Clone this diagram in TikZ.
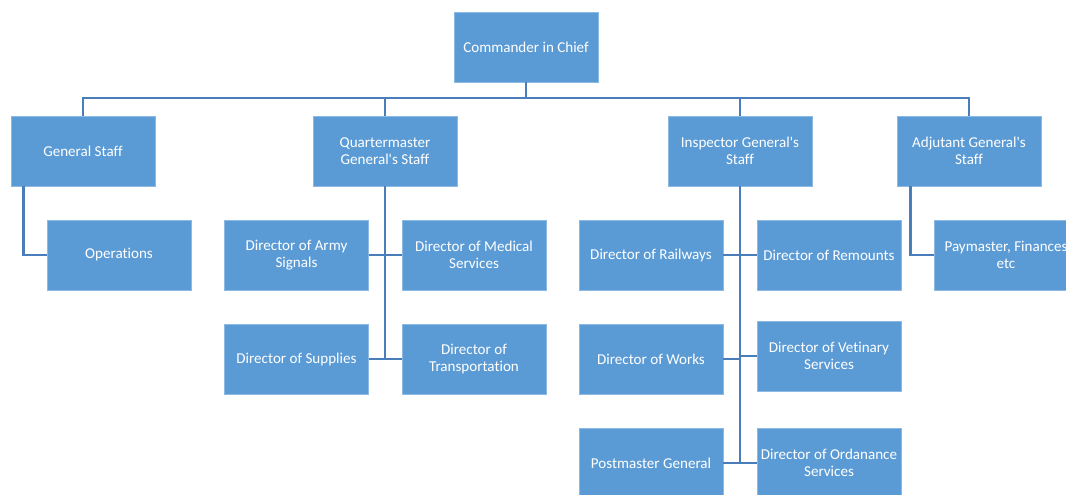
\documentclass[tikz,border=0pt]{standalone}
\usepackage{fontspec}
\setmainfont{Carlito}[Ligatures={TeXOff,NoCommon}]
\definecolor{boxfill}{HTML}{5B9BD5}
\definecolor{boxline}{HTML}{8DB9E5}
\definecolor{connc}{HTML}{4A7EBB}
\begin{document}
\begin{tikzpicture}[x=0.75pt,y=-0.75pt,
  orgbox/.style={rectangle, fill=boxfill, draw=boxline, line width=0.4pt,
    minimum width=108pt, minimum height=52.5pt, inner sep=2pt,
    text=white, align=center, font=\fontsize{11.3}{12.5}\selectfont},
  conn/.style={draw=connc, line width=2pt}]
\useasboundingbox (0,0) rectangle (1066,495);
% top
\node[orgbox] (cic) at (526,47) {Commander in Chief};
% second level
\node[orgbox] (gs) at (83,151) {General Staff};
\node[orgbox] (qm) at (385,151) {Quartermaster\\General's Staff};
\node[orgbox] (ig) at (740,151) {Inspector General's\\Staff};
\node[orgbox] (ag) at (969,151) {Adjutant General's\\Staff};
% general staff
\node[orgbox] (ops) at (119,255) {Operations};
% quartermaster
\node[orgbox] (sig) at (296.5,255) {Director of Army\\Signals};
\node[orgbox] (med) at (474,255) {Director of Medical\\Services};
\node[orgbox] (sup) at (296.5,359) {Director of Supplies};
\node[orgbox] (trn) at (474,359) {Director of\\Transportation};
% inspector general
\node[orgbox] (rail) at (651,255) {Director of Railways};
\node[orgbox] (rem) at (829,255) {Director of Remounts};
\node[orgbox] (wks) at (651,359) {Director of Works};
\node[orgbox] (vet) at (829,356) {Director of Vetinary\\Services};
\node[orgbox] (pmg) at (651,463) {Postmaster General};
\node[orgbox] (ord) at (829,463) {Director of Ordanance\\Services};
% adjutant
\node[orgbox] (pay) at (1006,255) {Paymaster, Finances\\etc};
% connectors
\coordinate (bus) at (526,98);
\draw[conn] (cic.south) -- (bus);
\draw[conn] (gs.north) |- (bus) -| (ag.north);
\draw[conn] (qm.north) -- (qm.north |- bus);
\draw[conn] (ig.north) -- (ig.north |- bus);
\draw[conn] ([xshift=9.75pt]gs.south west) |- (ops.west);
\draw[conn] (qm.south) -- (qm.south |- sup.east);
\draw[conn] (sig.east) -- (med.west);
\draw[conn] (sup.east) -- (trn.west);
\draw[conn] (ig.south) -- (ig.south |- pmg.east);
\draw[conn] (rail.east) -- (rem.west);
\draw[conn] (wks.east) -- (wks.east -| ig.south);
\draw[conn] (vet.west) -- (vet.west -| ig.south);
\draw[conn] (pmg.east) -- (ord.west);
\draw[conn] ([xshift=10.5pt]ag.south west) |- (pay.west);
\end{tikzpicture}
\end{document}
